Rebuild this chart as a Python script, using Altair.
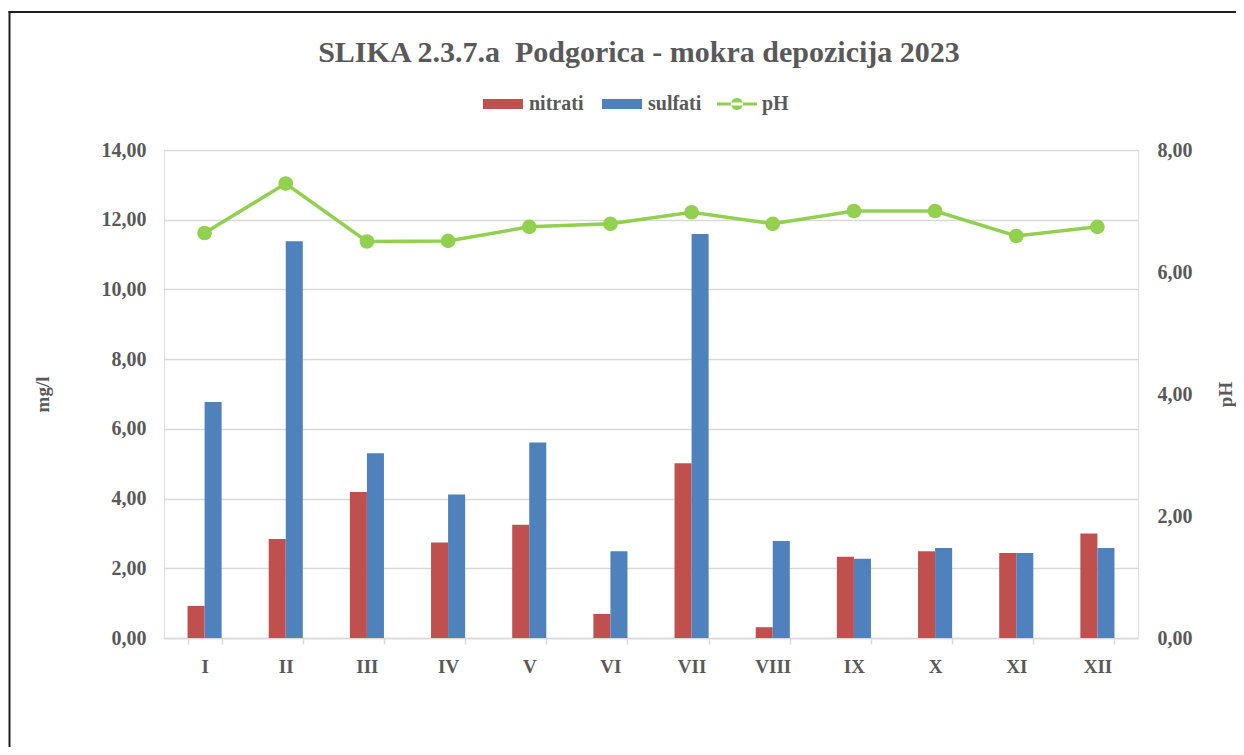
import altair as alt
import pandas as pd

months = ["I", "II", "III", "IV", "V", "VI", "VII", "VIII", "IX", "X", "XI", "XII"]
nitrati = [0.92, 2.84, 4.19, 2.74, 3.25, 0.69, 5.01, 0.31, 2.33, 2.49, 2.44, 3.00]
sulfati = [6.77, 11.38, 5.30, 4.12, 5.61, 2.49, 11.59, 2.78, 2.27, 2.58, 2.44, 2.58]
ph = [6.64, 7.45, 6.50, 6.51, 6.74, 6.79, 6.98, 6.79, 7.00, 7.00, 6.59, 6.74]

series_bars = ["nitrati", "sulfati"]
bar_colors = ["#C0504D", "#4F81BD"]
ph_color = "#92D050"
left_ticks = [0, 2, 4, 6, 8, 10, 12, 14]
right_ticks = [0, 2, 4, 6, 8]

FONT = "Liberation Serif"
TXT = "#595959"
GRID = "#D9D9D9"

bars_df = pd.DataFrame({
    "month": months * 2,
    "series": ["nitrati"] * len(months) + ["sulfati"] * len(months),
    "value": nitrati + sulfati,
})
ph_df = pd.DataFrame({"month": months, "series": ["pH"] * len(months), "value": ph})
frame_df = pd.DataFrame({"a": [0]})

comma = "replace(format(datum.value, '.2f'), '.', ',')"

x_enc = alt.X(
    "month:N", sort=months,
    scale=alt.Scale(domain=months, paddingInner=0.58, paddingOuter=0.29),
    axis=alt.Axis(title=None, tickBand="extent", ticks=True, tickSize=6, tickColor=GRID,
                  tickWidth=1.5, domainColor=GRID, domainWidth=1.5, labelFont=FONT,
                  labelFontSize=19, labelFontWeight="bold", labelColor=TXT,
                  labelPadding=13, labelAngle=0, grid=False),
)

rect_path = "M-1,-0.25L1,-0.25L1,0.25L-1,0.25Z"
ph_path = ("M-1,-0.08L1,-0.08L1,0.08L-1,0.08Z "
           "M-0.3,0A0.3,0.3 0 1,0 0.3,0A0.3,0.3 0 1,0 -0.3,0Z")

bars = alt.Chart(bars_df).mark_bar().encode(
    x=x_enc,
    xOffset=alt.XOffset("series:N", scale=alt.Scale(domain=series_bars, paddingInner=0, paddingOuter=0)),
    y=alt.Y("value:Q", scale=alt.Scale(domain=[0, 14], nice=False),
            axis=alt.Axis(title="mg/l", values=left_ticks, labelExpr=comma, grid=True,
                          gridColor=GRID, gridWidth=1.5, domain=False, ticks=False, tickSize=0,
                          labelPadding=18, labelFont=FONT, labelFontSize=20,
                          labelFontWeight="bold", labelColor=TXT,
                          titleFont=FONT, titleFontSize=19, titleFontWeight="bold",
                          titleColor=TXT, titleAngle=270, titleX=-122, titleY=244,
                          titleAlign="center", titleBaseline="middle")),
    color=alt.Color("series:N", scale=alt.Scale(domain=series_bars, range=bar_colors),
                    legend=alt.Legend(title=None, orient="none", direction="horizontal",
                                      legendX=319, legendY=-66, symbolType=rect_path,
                                      symbolSize=1600, symbolStrokeWidth=0, labelFont=FONT,
                                      labelFontSize=20, labelFontWeight="bold",
                                      labelColor=TXT, labelOffset=6, columnPadding=18)),
)

ph_axis = alt.Axis(title="pH", orient="right", values=right_ticks, labelExpr=comma,
                   grid=False, domain=False, ticks=False, tickSize=0, labelPadding=19,
                   labelFont=FONT, labelFontSize=20, labelFontWeight="bold",
                   labelColor=TXT, titleFont=FONT, titleFontSize=19,
                   titleFontWeight="bold", titleColor=TXT, titleAngle=270,
                   titleX=87, titleY=244, titleAlign="center", titleBaseline="middle")
ph_scale = alt.Scale(domain=[0, 8], nice=False)

line = alt.Chart(ph_df).mark_line(color=ph_color, strokeWidth=3.5).encode(
    x=alt.X("month:N", sort=months),
    y=alt.Y("value:Q", scale=ph_scale, axis=ph_axis))
points = alt.Chart(ph_df).mark_circle(size=215, opacity=1).encode(
    x=alt.X("month:N", sort=months),
    y=alt.Y("value:Q", scale=ph_scale, axis=ph_axis),
    fill=alt.Fill("series:N", scale=alt.Scale(domain=["pH"], range=[ph_color]),
                  legend=alt.Legend(title=None, orient="none", direction="horizontal",
                                    legendX=553, legendY=-66, symbolType=ph_path,
                                    symbolSize=1600, symbolStrokeWidth=0, labelFont=FONT,
                                    labelFontSize=20, labelFontWeight="bold",
                                    labelColor=TXT, labelOffset=5)),
)
ph_layer = alt.layer(line, points)

frame_top = alt.Chart(frame_df).mark_rule(stroke="#1f1f1f", strokeWidth=2, clip=False).encode(
    x=alt.value(-155.5), x2=alt.value(1072), y=alt.value(-138))
frame_left = alt.Chart(frame_df).mark_rule(stroke="#1f1f1f", strokeWidth=2, clip=False).encode(
    x=alt.value(-154.5), y=alt.value(-139), y2=alt.value(700))

chart = alt.layer(frame_top, frame_left, bars, ph_layer).resolve_scale(y="independent").properties(
    width=974, height=488,
    title=alt.Title("SLIKA 2.3.7.a\u00a0 Podgorica - mokra depozicija 2023", font=FONT,
                    fontSize=30, fontWeight="bold", color=TXT, anchor="middle", dx=-12,
                    frame="group", baseline="alphabetic", offset=-82),
    autosize=alt.AutoSizeParams(type="none"),
    padding={"left": 156, "top": 142, "right": 98, "bottom": 109},
).configure_view(stroke=None).configure(background="white")

chart.save("out.html", embed_options={"renderer": "svg", "actions": False})
